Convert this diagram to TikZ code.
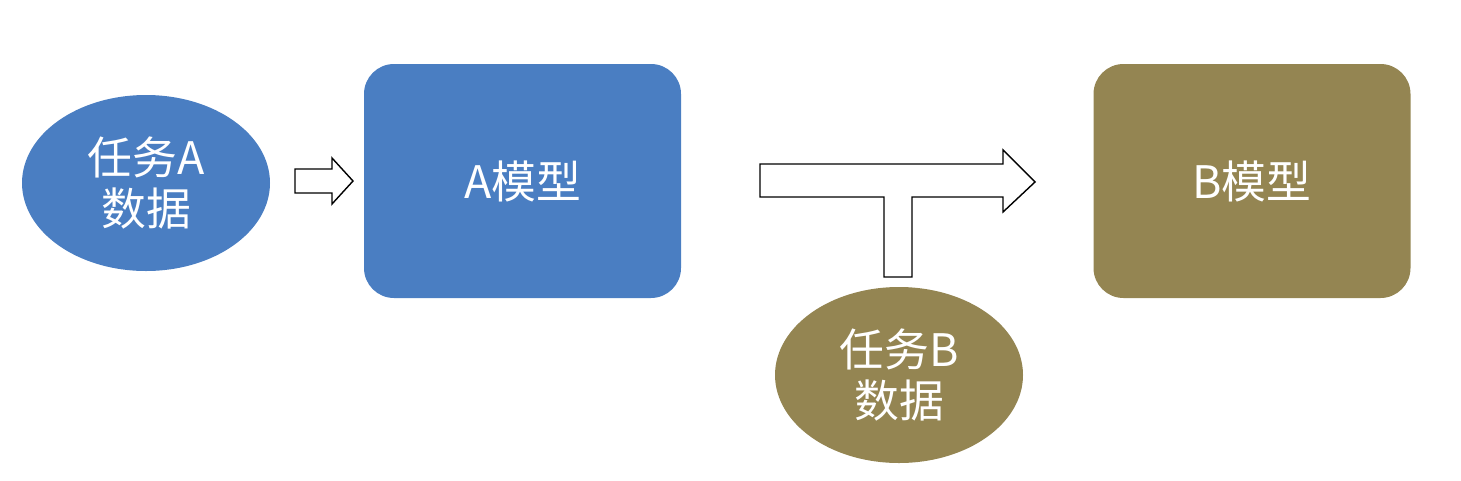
\documentclass[tikz,border=0pt]{standalone}
\usepackage{fontspec}
\setmainfont{Noto Sans CJK SC}
\usetikzlibrary{positioning,shapes.geometric}
\definecolor{taskblue}{HTML}{4A7EC2}
\definecolor{taskolive}{HTML}{948552}
\tikzset{every picture/.style={line width=0.75pt}}
\tikzset{
  dataell/.style  ={ellipse, minimum width=4.96cm, minimum height=3.52cm, inner sep=0pt,
                    text=white, align=center, font=\fontsize{25.5}{29.5}\selectfont},
  modelbox/.style ={rectangle, rounded corners=0.6cm, minimum width=6.34cm, minimum height=4.68cm,
                    text=white, font=\fontsize{25.5}{29.5}\selectfont},
  hollowarr/.style={draw=black, fill=white, line width=0.8pt},
}

\begin{document}
\begin{tikzpicture}
        \useasboundingbox (0,0) rectangle (29.22,9.6);
        % task A
        \node[dataell, fill=taskblue] (da) at (2.92,5.94) {任务A\\数据};
        \node[modelbox, fill=taskblue] (ma) at (10.45,5.98) {A模型};
        \draw[hollowarr] (5.9,6.22) -- (6.64,6.22) -- (6.64,6.44) -- (7.06,5.98)
          -- (6.64,5.52) -- (6.64,5.74) -- (5.9,5.74) -- cycle;
        % task B
        \node[modelbox, fill=taskolive] (mb) at (25.04,5.98) {B模型};
        \node[dataell, fill=taskolive] (db) at (17.98,2.10) {任务B\\数据};
        % T arrow
        \draw[hollowarr] (15.2,6.32) -- (20.06,6.32) -- (20.06,6.6) -- (20.70,5.96)
          -- (20.06,5.36) -- (20.06,5.66) -- (18.24,5.66) -- (18.24,4.06) -- (17.68,4.06)
          -- (17.68,5.66) -- (15.2,5.66) -- cycle;
    \end{tikzpicture}
\end{document}
